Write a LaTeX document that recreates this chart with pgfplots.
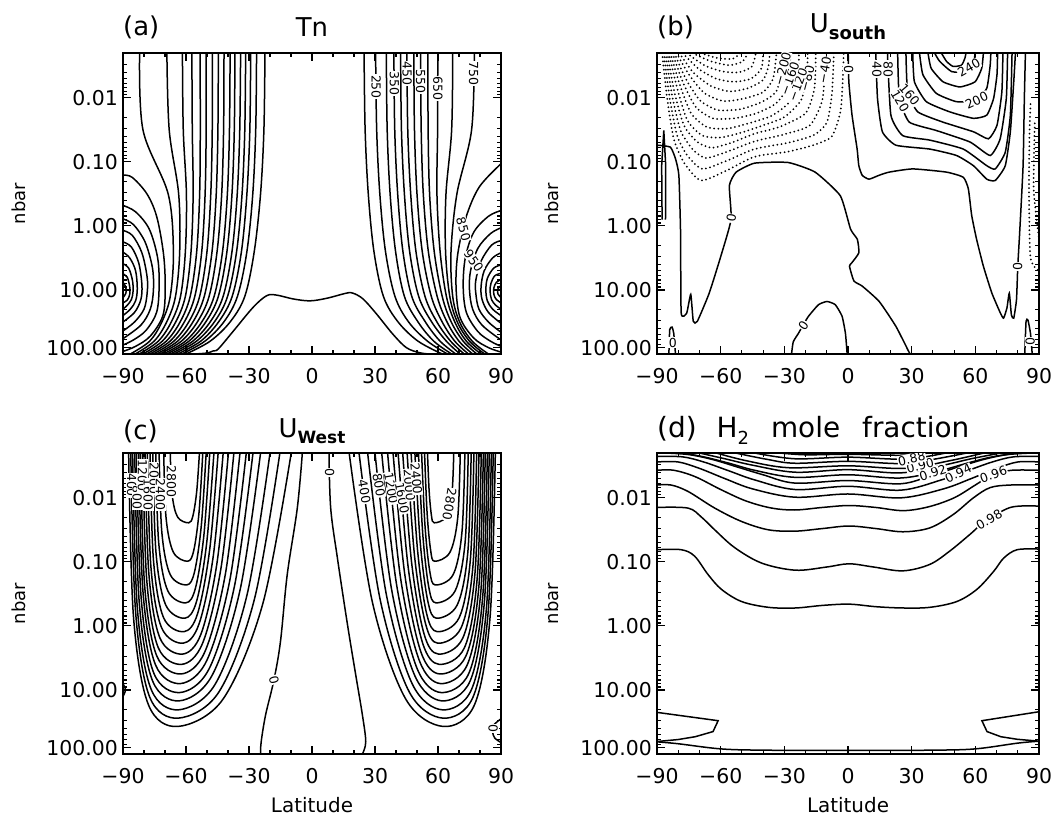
\documentclass[border=0pt]{standalone}
\usepackage{fontspec}
\setmainfont{DejaVu Sans}
\usepackage{pgfplots}
\pgfplotsset{compat=1.18}
\pgfplotsset{
 panel/.style={scale only axis, height=301bp, xmin=-90, xmax=90, ymin=-2.7, ymax=2.0, y dir=reverse,
  xtick={-90,-60,-30,0,30,60,90}, xticklabels={},
  minor xtick={-80,-70,-50,-40,-20,-10,10,20,40,50,70,80},
  ytick={-2,-1,0,1,1.9}, yticklabels={},
  tick label style={opacity=0,text opacity=0},
  minor ytick={-2.523,-2.398,-2.301,-2.222,-2.155,-2.097,-2.046,-1.699,-1.523,-1.398,-1.301,-1.222,-1.155,-1.097,-1.046,-0.699,-0.523,-0.398,-0.301,-0.222,-0.155,-0.097,-0.046,0.301,0.477,0.602,0.699,0.778,0.845,0.903,0.954,1.301,1.477,1.602,1.699,1.778,1.845},
  tick align=inside, major tick length=8bp, minor tick length=4bp,
  every tick/.style={black,line width=1.1bp},
  axis line style={line width=1.8bp},
  ylabel={\mbox{\fontsize{18}{18}\selectfont nbar}},
  every axis y label/.style={at={(axis description cs:-0.275,0.5)},rotate=90,anchor=center},
  every axis x label/.style={at={(axis description cs:0.5,-0.17)},anchor=center},
 },
 ct/.style={black,line width=1.5bp,smooth,tension=0.55,mark=none},
 cb/.style={black,line width=1.5bp,smooth,tension=0.3,mark=none},
 cl/.style={black,line width=1.5bp,mark=none},
 dt/.style={black,line width=2bp,smooth,tension=0.4,mark=none,line cap=round,dash pattern=on 0bp off 4.2bp},
}
\tikzset{lbl/.style={fill=white,inner sep=0.6bp,font=\fontsize{12.5}{12.5}\selectfont},
 ttl/.style={font=\fontsize{26}{26}\selectfont,inner sep=0pt},
 tlab/.style={font=\fontsize{20.5}{22}\selectfont,inner sep=0pt}}
\begin{document}
\begin{tikzpicture}[x=1bp,y=1bp]
\path[use as bounding box] (0bp,0bp) rectangle (1054bp,817bp);

%================ (a) Tn
\begin{axis}[panel, width=378bp, at={(123bp,463bp)}, anchor=south west]
\addplot[ct] coordinates {(-56,2.0) (-50,1.985) (-46.9,1.95) (-44.6,1.92) (-37.4,1.64) (-28.0,1.27) (-21.6,1.09) (-16.9,1.08) (-9.0,1.14) (-1.0,1.17) (7.0,1.13) (16.4,1.05) (19.5,1.05) (24.3,1.14) (30.6,1.37) (38.5,1.69) (44.9,1.90) (51.2,1.98) (56,2.0)};
\addplot[ct] coordinates {(24.8,-2.7) (25.3,-1.5) (26.8,-0.5) (29.5,0.4) (34.0,1.1) (41.0,1.5) (50.5,1.8) (62.0,2.0)};
\addplot[ct] coordinates {(30.3,-2.7) (30.8,-1.5) (32.3,-0.5) (35.0,0.4) (39.5,1.1) (46.0,1.5) (55.0,1.8) (64.5,2.0)};
\addplot[ct] coordinates {(35.4,-2.7) (35.8,-1.5) (37.2,-0.5) (39.8,0.4) (44.0,1.1) (50.5,1.5) (58.0,1.8) (66.5,2.0)};
\addplot[ct] coordinates {(39.0,-2.7) (39.4,-1.5) (40.8,-0.5) (43.3,0.4) (47.5,1.1) (54.0,1.5) (61.0,1.8) (68.5,2.0)};
\addplot[ct] coordinates {(42.2,-2.7) (42.6,-1.5) (44.0,-0.5) (46.5,0.4) (50.8,1.1) (57.0,1.5) (64.0,1.8) (70.5,2.0)};
\addplot[ct] coordinates {(45.2,-2.7) (45.6,-1.5) (47.0,-0.5) (49.5,0.4) (53.8,1.1) (59.5,1.5) (66.0,1.8) (72.5,2.0)};
\addplot[ct] coordinates {(48.5,-2.7) (48.8,-1.5) (50.0,-0.5) (52.5,0.4) (56.8,1.1) (62.0,1.5) (68.0,1.8) (74.5,2.0)};
\addplot[ct] coordinates {(51.7,-2.7) (52.0,-1.5) (53.0,-0.5) (55.4,0.4) (59.6,1.1) (64.3,1.5) (70.0,1.8) (76.5,2.0)};
\addplot[ct] coordinates {(55.2,-2.7) (55.3,-1.5) (56.0,-0.5) (58.2,0.4) (62.0,1.1) (66.3,1.5) (72.0,1.8) (78.5,2.0)};
\addplot[ct] coordinates {(59.9,-2.7) (59.8,-1.5) (59.5,-0.5) (61.0,0.4) (64.0,1.1) (68.0,1.5) (73.5,1.8) (80.5,2.0)};
\addplot[ct] coordinates {(67.0,-2.7) (66.5,-1.5) (63.8,-0.5) (63.6,0.4) (65.6,1.1) (69.2,1.5) (75.0,1.8) (82.2,2.0)};
\addplot[ct] coordinates {(77.3,-2.7) (76.0,-1.5) (69.0,-0.5) (66.2,0.4) (67.0,1.1) (70.3,1.5) (76.3,1.8) (84.0,2.0)};
\addplot[ct] coordinates {(90,-0.97) (79.7,-0.61) (73.4,-0.14) (69.4,0.44) (68.6,0.96) (70.5,1.43) (77,1.75) (84,1.9) (90,1.97)};
\addplot[ct] coordinates {(90,-0.24) (84,-0.15) (77,0.1) (73,0.5) (72,0.95) (73.5,1.35) (79,1.65) (85,1.8) (90,1.88)};
\addplot[ct] coordinates {(90,0.03) (85,0.12) (79,0.35) (75.5,0.7) (75,1.0) (76.5,1.3) (81,1.55) (90,1.78)};
\addplot[ct] coordinates {(90,0.23) (85.5,0.3) (80.5,0.55) (78,0.85) (78,1.05) (79.5,1.3) (84,1.5) (90,1.66)};
\addplot[ct] coordinates {(90,0.42) (86,0.5) (82,0.7) (80.5,0.95) (81,1.15) (84,1.35) (90,1.52)};
\addplot[ct] coordinates {(90,0.61) (86.5,0.66) (83.5,0.82) (82.8,1.0) (83.5,1.17) (86,1.3) (90,1.4)};
\addplot[ct] coordinates {(90,0.74) (87,0.78) (85.2,0.9) (84.8,1.02) (85.5,1.15) (87.5,1.24) (90,1.3)};
\addplot[ct] coordinates {(90,0.84) (87.8,0.88) (86.6,0.97) (86.6,1.07) (87.8,1.15) (90,1.2)};
\addplot[ct] coordinates {(90,0.93) (88.6,0.98) (88.5,1.06) (90,1.12)};
\addplot[ct] coordinates {(-22.4,-2.7) (-22.9,-1.5) (-24.5,-0.5) (-27.5,0.4) (-32.0,1.1) (-39.0,1.5) (-48.5,1.8) (-60.0,2.0)};
\addplot[ct] coordinates {(-26.4,-2.7) (-26.8,-1.5) (-28.2,-0.5) (-31.0,0.4) (-35.5,1.1) (-42.0,1.5) (-51.0,1.8) (-62.0,2.0)};
\addplot[ct] coordinates {(-29.2,-2.7) (-29.6,-1.5) (-31.0,-0.5) (-33.6,0.4) (-38.0,1.1) (-44.5,1.5) (-53.0,1.8) (-64.0,2.0)};
\addplot[ct] coordinates {(-31.6,-2.7) (-32.0,-1.5) (-33.3,-0.5) (-35.9,0.4) (-40.2,1.1) (-46.5,1.5) (-55.0,1.8) (-65.8,2.0)};
\addplot[ct] coordinates {(-34.0,-2.7) (-34.4,-1.5) (-35.6,-0.5) (-38.1,0.4) (-42.3,1.1) (-48.5,1.5) (-56.8,1.8) (-67.5,2.0)};
\addplot[ct] coordinates {(-36.7,-2.7) (-37.0,-1.5) (-38.1,-0.5) (-40.5,0.4) (-44.6,1.1) (-50.6,1.5) (-58.6,1.8) (-69.2,2.0)};
\addplot[ct] coordinates {(-39.0,-2.7) (-39.3,-1.5) (-40.3,-0.5) (-42.6,0.4) (-46.6,1.1) (-52.5,1.5) (-60.3,1.8) (-70.8,2.0)};
\addplot[ct] coordinates {(-41.9,-2.7) (-42.1,-1.5) (-43.0,-0.5) (-45.2,0.4) (-49.0,1.1) (-54.6,1.5) (-62.2,1.8) (-72.5,2.0)};
\addplot[ct] coordinates {(-44.6,-2.7) (-44.8,-1.5) (-45.6,-0.5) (-47.6,0.4) (-51.3,1.1) (-56.7,1.5) (-64.0,1.8) (-74.0,2.0)};
\addplot[ct] coordinates {(-47.4,-2.7) (-47.5,-1.5) (-48.2,-0.5) (-50.0,0.4) (-53.5,1.1) (-58.7,1.5) (-65.8,1.8) (-75.6,2.0)};
\addplot[ct] coordinates {(-50.4,-2.7) (-50.4,-1.5) (-50.9,-0.5) (-52.5,0.4) (-55.8,1.1) (-60.8,1.5) (-67.6,1.8) (-77.2,2.0)};
\addplot[ct] coordinates {(-53.3,-2.7) (-53.2,-1.5) (-53.5,-0.5) (-54.9,0.4) (-58.0,1.1) (-62.8,1.5) (-69.4,1.8) (-78.8,2.0)};
\addplot[ct] coordinates {(-57.2,-2.7) (-57.0,-1.5) (-56.6,-0.5) (-57.6,0.4) (-60.3,1.1) (-64.9,1.5) (-71.3,1.8) (-80.5,2.0)};
\addplot[ct] coordinates {(-61.7,-2.7) (-61.3,-1.5) (-59.8,-0.5) (-60.3,0.4) (-62.6,1.1) (-67.0,1.5) (-73.2,1.8) (-82.3,2.0)};
\addplot[ct] coordinates {(-69.1,-2.7) (-68.0,-1.5) (-63.5,-0.5) (-63.0,0.4) (-65.0,1.1) (-69.2,1.5) (-75.2,1.8) (-84.2,2.0)};
\addplot[ct] coordinates {(-82.1,-2.7) (-80.5,-1.5) (-68.5,-0.5) (-66.0,0.4) (-67.5,1.1) (-71.5,1.5) (-77.3,1.8) (-86.5,2.0)};
\addplot[ct] coordinates {(-90,-0.79) (-85.7,-0.76) (-78.6,-0.50) (-73.9,-0.14) (-70.7,0.44) (-69.9,0.96) (-71,1.40) (-77,1.72) (-84,1.88) (-90,1.96)};
\addplot[ct] coordinates {(-90,-0.32) (-84,-0.22) (-77.5,0.05) (-73.5,0.5) (-72.8,0.95) (-74,1.35) (-79,1.63) (-85,1.78) (-90,1.86)};
\addplot[ct] coordinates {(-90,-0.11) (-85,-0.02) (-79.5,0.25) (-76,0.65) (-75.5,1.0) (-77,1.3) (-81.5,1.55) (-90,1.76)};
\addplot[ct] coordinates {(-90,0.07) (-85.5,0.15) (-81,0.42) (-78.5,0.8) (-78.5,1.05) (-80,1.3) (-84.5,1.5) (-90,1.64)};
\addplot[ct] coordinates {(-90,0.25) (-86,0.33) (-82.5,0.58) (-81,0.92) (-81.5,1.15) (-84.5,1.35) (-90,1.5)};
\addplot[ct] coordinates {(-90,0.41) (-86.8,0.5) (-84,0.7) (-83.2,0.98) (-84,1.17) (-86.5,1.3) (-90,1.4)};
\addplot[ct] coordinates {(-90,0.59) (-87.3,0.66) (-85.5,0.85) (-85.2,1.02) (-86,1.15) (-88,1.24) (-90,1.3)};
\addplot[ct] coordinates {(-90,0.75) (-88,0.8) (-86.8,0.95) (-86.8,1.07) (-88,1.16) (-90,1.2)};
\addplot[ct] coordinates {(-90,0.88) (-88.7,0.95) (-88.6,1.05) (-90,1.12)};
\node[lbl,rotate=-90] at (axis cs:30.5,-2.17) {250};
\node[lbl,rotate=-90] at (axis cs:39.2,-2.22) {350};
\node[lbl,rotate=-90] at (axis cs:45.3,-2.38) {450};
\node[lbl,rotate=-90] at (axis cs:51.8,-2.25) {550};
\node[lbl,rotate=-90] at (axis cs:59.9,-2.15) {650};
\node[lbl,rotate=-90] at (axis cs:77.0,-2.38) {750};
\node[lbl,rotate=-75] at (axis cs:72.1,0.05) {850};
\node[lbl,rotate=-55] at (axis cs:77.0,0.55) {950};
\end{axis}
\node[ttl,anchor=west] at (123bp,790bp) {(a)};
\node[ttl] at (312bp,790bp) {Tn};

%================ (b) U south
\begin{axis}[panel, width=382bp, at={(657bp,463bp)}, anchor=south west]
\addplot[cb] coordinates {(0.1,-2.7) (0.4,-2.25) (1.9,-1.73) (4.3,-1.2) (5.1,-0.94) (6.7,-0.79) (9.9,-0.73) (14.6,-0.79) (19.4,-0.84) (30.5,-0.89) (46.4,-0.84) (54.3,-0.76) (56.7,-0.58) (58.3,-0.16) (60.6,0.21) (63.8,0.63) (67.8,1.05) (71.8,1.36) (73.3,1.44) (74.9,1.28) (76.0,1.05) (77.0,1.39) (78.1,1.44) (79.4,1.15) (80.0,0.63) (80.9,0.10) (82.5,-0.94) (83.1,-1.99) (83.6,-2.7)};
\addplot[cb] coordinates {(-89.7,-1.26) (-83.7,-1.23) (-81.3,-1.05) (-79.7,-0.79) (-78.9,0.10) (-78.6,1.36) (-76.0,1.36) (-74.1,1.07) (-72.9,1.49) (-71.0,1.49) (-65.4,1.05) (-59.9,0.47) (-55.1,-0.10) (-55.9,-0.63) (-52.7,-0.84) (-44.0,-0.98) (-28.2,-0.99) (-15.5,-0.84) (-3.6,-0.47) (1.2,0.05) (4.4,0.21) (5.1,0.42) (1.7,0.58) (0.7,0.63) (2.8,0.86) (6.7,0.94) (14.7,1.18) (22.6,1.57) (28.9,1.98) (29.5,2.0)};
\addplot[cb] coordinates {(-26.6,2.0) (-25.8,1.81) (-23.4,1.68) (-21.0,1.54) (-18.6,1.41) (-13.9,1.23) (-9.9,1.18) (-6.0,1.23) (-2.8,1.41) (-1.2,1.68) (-0.4,2.0)};
\addplot[cl] coordinates {(-87.6,-0.10) (-87.8,-0.94) (-86.8,-1.49) (-85.9,-0.94) (-86.0,-0.10)};
\addplot[cb] coordinates {(-84.4,2.0) (-84.0,1.62) (-82.9,1.58) (-82.1,1.68) (-81.3,2.0)};
\addplot[cb] coordinates {(83.3,2.0) (83.9,1.49) (84.8,1.47) (86.0,1.68) (86.8,2.0)};
\addplot[cb] coordinates {(13.1,-2.7) (13.9,-1.99) (16.2,-1.47) (22.6,-1.26) (38.5,-1.20) (51.1,-1.10) (59.1,-0.94) (65.4,-0.73) (69.4,-0.71) (74.1,-0.94) (76.5,-1.47) (78.1,-2.25) (78.9,-2.7)};
\addplot[cb] coordinates {(18.6,-2.7) (20.2,-1.73) (25.8,-1.41) (38.5,-1.34) (54.3,-1.20) (65.4,-0.94) (69.4,-0.89) (74.1,-1.15) (76.5,-1.73) (77.3,-2.7)};
\addplot[cb] coordinates {(23.4,-2.7) (24.2,-1.99) (28.9,-1.62) (41.6,-1.49) (57.5,-1.31) (67.0,-1.10) (71.7,-1.36) (74.6,-1.99) (75.2,-2.7)};
\addplot[cb] coordinates {(27.3,-2.7) (28.1,-2.09) (32.9,-1.78) (44.8,-1.62) (59.1,-1.47) (66.2,-1.36) (70.2,-1.57) (72.5,-2.09) (73.0,-2.7)};
\addplot[cb] coordinates {(30.5,-2.7) (31.3,-2.25) (36.9,-1.94) (48.0,-1.78) (59.1,-1.68) (65.4,-1.73) (68.6,-1.99) (70.2,-2.36) (70.5,-2.7)};
\addplot[cb] coordinates {(33.7,-2.7) (35.3,-2.36) (41.6,-2.07) (51.1,-1.94) (60.6,-1.96) (65.4,-2.15) (67.0,-2.51) (67.3,-2.7)};
\addplot[cb] coordinates {(37.7,-2.7) (39.2,-2.46) (44.8,-2.25) (52.7,-2.17) (59.9,-2.25) (63.0,-2.46) (63.8,-2.7)};
\addplot[cb] coordinates {(40.8,-2.7) (43.2,-2.57) (48.8,-2.41) (55.1,-2.41) (59.1,-2.54) (59.9,-2.7)};
\addplot[cb] coordinates {(44.0,-2.7) (46.4,-2.57) (49.5,-2.49) (53.5,-2.51) (55.1,-2.62) (55.6,-2.7)};
\addplot[dt] coordinates {(-87.6,-2.7) (-85.2,-1.99) (-82.1,-1.36) (-77.3,-0.99) (-69.4,-0.71) (-57.5,-0.86) (-44,-1.08) (-28.2,-1.16) (-15.5,-1.27) (-7.6,-1.40) (-3.6,-1.78) (-2.5,-2.25) (-2.0,-2.7)};
\addplot[dt] coordinates {(-86.8,-2.7) (-84.0,-1.99) (-80.5,-1.41) (-75.7,-1.10) (-68.6,-0.89) (-57,-1.02) (-44,-1.20) (-28,-1.30) (-16,-1.42) (-9.9,-1.62) (-7.5,-2.09) (-6.7,-2.7)};
\addplot[dt] coordinates {(-86.0,-2.7) (-82.9,-2.04) (-78.9,-1.49) (-73.3,-1.20) (-67,-1.06) (-56,-1.17) (-44,-1.32) (-30,-1.43) (-18,-1.57) (-12.3,-1.94) (-11.0,-2.36) (-10.7,-2.7)};
\addplot[dt] coordinates {(-85.2,-2.7) (-81.8,-2.09) (-77.3,-1.57) (-71.0,-1.31) (-64,-1.22) (-54,-1.31) (-44,-1.44) (-32,-1.55) (-20,-1.76) (-15.8,-2.15) (-15.2,-2.7)};
\addplot[dt] coordinates {(-84.4,-2.7) (-80.5,-2.15) (-75.7,-1.65) (-68.6,-1.41) (-60,-1.38) (-50,-1.46) (-40,-1.57) (-30,-1.70) (-22,-1.97) (-19.4,-2.36) (-19.0,-2.7)};
\addplot[dt] coordinates {(-83.7,-2.7) (-79.2,-2.20) (-73.8,-1.75) (-66.2,-1.54) (-57,-1.52) (-47,-1.60) (-36,-1.72) (-28,-1.92) (-23.7,-2.25) (-23.1,-2.7)};
\addplot[dt] coordinates {(-82.7,-2.7) (-77.9,-2.25) (-71.8,-1.86) (-63.8,-1.68) (-53.5,-1.68) (-43,-1.76) (-34,-1.91) (-29,-2.15) (-26.9,-2.7)};
\addplot[dt] coordinates {(-81.8,-2.7) (-76.5,-2.30) (-69.7,-1.96) (-61.5,-1.81) (-51.1,-1.82) (-41,-1.93) (-34,-2.09) (-31.0,-2.41) (-30.4,-2.7)};
\addplot[dt] coordinates {(-80.8,-2.7) (-74.9,-2.36) (-67.5,-2.07) (-58.6,-1.95) (-48.8,-1.99) (-40.0,-2.09) (-35.3,-2.30) (-33.7,-2.7)};
\addplot[dt] coordinates {(-79.5,-2.7) (-73.0,-2.40) (-64.9,-2.19) (-55.9,-2.10) (-47.2,-2.15) (-40.0,-2.28) (-37.4,-2.51) (-36.9,-2.7)};
\addplot[dt] coordinates {(-77.9,-2.7) (-70.7,-2.46) (-62.2,-2.30) (-53.5,-2.25) (-45.6,-2.30) (-40.8,-2.46) (-40.0,-2.7)};
\addplot[dt] coordinates {(-76.0,-2.7) (-67.8,-2.51) (-59.1,-2.41) (-51.1,-2.40) (-45.3,-2.49) (-43.4,-2.7)};
\addplot[dt] coordinates {(-73.3,-2.7) (-64.6,-2.57) (-55.9,-2.51) (-49.6,-2.57) (-47.2,-2.7)};
\addplot[dt] coordinates {(-69.4,-2.7) (-61.5,-2.62) (-54.3,-2.61) (-50.7,-2.7)};
\addplot[dt] coordinates {(86.0,-1.9) (85.5,-1.4) (85.3,-0.5) (86,0.5) (90,0.7)};
\addplot[dt] coordinates {(88.0,-1.6) (87.6,-1.0) (87.6,-0.5) (90,0.2)};
\node[lbl,rotate=-90] at (axis cs:0.3,-2.45) {0};
\node[lbl,rotate=80] at (axis cs:-55.0,-0.12) {0};
\node[lbl,rotate=-90] at (axis cs:80.0,0.63) {0};
\node[lbl,rotate=55] at (axis cs:-21.0,1.55) {0};
\node[lbl] at (axis cs:-82.6,1.82) {0};
\node[lbl,rotate=-90] at (axis cs:85.8,1.8) {0};
\node[lbl,rotate=-90] at (axis cs:13.6,-2.45) {40};
\node[lbl,rotate=-90] at (axis cs:18.9,-2.45) {80};
\node[lbl,rotate=-60] at (axis cs:24.5,-1.95) {120};
\node[lbl,rotate=-50] at (axis cs:29.0,-2.05) {160};
\node[lbl,rotate=25] at (axis cs:60.6,-1.96) {200};
\node[lbl,rotate=30] at (axis cs:57.0,-2.47) {240};
\node[lbl,rotate=80] at (axis cs:-11.0,-2.43) {−40};
\node[lbl,rotate=75] at (axis cs:-19.2,-2.30) {−80};
\node[lbl,rotate=70] at (axis cs:-23.7,-2.20) {−120};
\node[lbl,rotate=70] at (axis cs:-27.5,-2.30) {−160};
\node[lbl,rotate=75] at (axis cs:-30.8,-2.45) {−200};
\end{axis}
\node[ttl,anchor=west] at (657bp,790bp) {(b)};
\node[ttl] at (848bp,790bp) {U\raisebox{-7bp}{\fontsize{18}{18}\selectfont\bfseries south}};

%================ (c) U west
\begin{axis}[panel, width=378bp, at={(123bp,63bp)}, anchor=south west, xlabel={\mbox{\fontsize{20}{20}\selectfont Latitude}}]
\addplot[ct] coordinates {(-87.3,-2.7) (-85.0,-0.14) (-77.9,1.23) (-63.9,1.57) (-42.3,1.14) (-23.4,-0.35) (-9.9,-2.7)};
\addplot[ct] coordinates {(-86.3,-2.7) (-84.0,-0.22) (-77.3,1.11) (-63.7,1.44) (-44.3,1.03) (-27.4,-0.42) (-15.3,-2.7)};
\addplot[ct] coordinates {(-85.4,-2.7) (-83.2,-0.29) (-76.6,0.99) (-63.5,1.31) (-46.1,0.91) (-30.9,-0.49) (-20.0,-2.7)};
\addplot[ct] coordinates {(-84.4,-2.7) (-82.3,-0.38) (-75.9,0.86) (-63.2,1.17) (-47.7,0.78) (-34.2,-0.57) (-24.5,-2.7)};
\addplot[ct] coordinates {(-83.5,-2.7) (-81.4,-0.46) (-75.3,0.74) (-62.9,1.04) (-49.0,0.67) (-36.8,-0.64) (-28.1,-2.7)};
\addplot[ct] coordinates {(-82.5,-2.7) (-80.5,-0.54) (-74.5,0.61) (-62.6,0.90) (-50.1,0.54) (-39.1,-0.72) (-31.3,-2.7)};
\addplot[ct] coordinates {(-81.6,-2.7) (-79.7,-0.63) (-73.9,0.47) (-62.3,0.75) (-51.1,0.41) (-41.3,-0.80) (-34.3,-2.7)};
\addplot[ct] coordinates {(-80.6,-2.7) (-78.7,-0.72) (-73.2,0.34) (-62.0,0.60) (-52.1,0.27) (-43.4,-0.89) (-37.2,-2.7)};
\addplot[ct] coordinates {(-79.5,-2.7) (-77.7,-0.82) (-72.4,0.19) (-61.7,0.44) (-52.9,0.13) (-45.3,-0.97) (-39.8,-2.7)};
\addplot[ct] coordinates {(-78.4,-2.7) (-76.7,-0.92) (-71.6,0.03) (-61.4,0.27) (-53.8,-0.03) (-47.1,-1.07) (-42.3,-2.7)};
\addplot[ct] coordinates {(-77.1,-2.7) (-75.5,-1.03) (-70.7,-0.13) (-61.0,0.09) (-54.5,-0.19) (-48.8,-1.17) (-44.7,-2.7)};
\addplot[ct] coordinates {(-75.8,-2.7) (-74.3,-1.15) (-69.7,-0.33) (-60.6,-0.12) (-55.0,-0.38) (-50.2,-1.28) (-46.7,-2.7)};
\addplot[ct] coordinates {(-74.4,-2.7) (-73.0,-1.30) (-68.7,-0.55) (-60.1,-0.36) (-55.5,-0.59) (-51.5,-1.41) (-48.7,-2.7)};
\addplot[ct] coordinates {(-72.8,-2.7) (-71.5,-1.46) (-67.5,-0.80) (-59.6,-0.64) (-55.9,-0.85) (-52.7,-1.57) (-50.4,-2.7)};
\addplot[ct] coordinates {(-70.6,-2.7) (-69.5,-1.69) (-66.0,-1.15) (-59.2,-1.01) (-56.3,-1.18) (-53.8,-1.77) (-52.0,-2.7)};
\addplot[ct] coordinates {(-67.5,-2.7) (-66.6,-2.05) (-64.0,-1.70) (-58.7,-1.61) (-56.7,-1.72) (-54.9,-2.10) (-53.6,-2.7)};
\addplot[ct] coordinates {(87.3,-2.7) (84.8,-0.14) (77.4,1.23) (62.5,1.57) (44.6,1.14) (28.9,-0.35) (17.7,-2.7)};
\addplot[ct] coordinates {(86.3,-2.7) (83.9,-0.22) (76.7,1.11) (62.3,1.44) (46.3,1.03) (32.4,-0.42) (22.4,-2.7)};
\addplot[ct] coordinates {(85.4,-2.7) (83.1,-0.29) (76.0,0.99) (62.0,1.31) (47.8,0.91) (35.4,-0.49) (26.5,-2.7)};
\addplot[ct] coordinates {(84.4,-2.7) (82.1,-0.38) (75.3,0.86) (61.7,1.17) (49.0,0.78) (37.9,-0.57) (30.0,-2.7)};
\addplot[ct] coordinates {(83.5,-2.7) (81.3,-0.46) (74.7,0.74) (61.4,1.04) (50.1,0.67) (40.3,-0.64) (33.2,-2.7)};
\addplot[ct] coordinates {(82.5,-2.7) (80.4,-0.54) (73.9,0.61) (61.1,0.90) (51.1,0.54) (42.3,-0.72) (36.0,-2.7)};
\addplot[ct] coordinates {(81.6,-2.7) (79.5,-0.63) (73.3,0.47) (60.8,0.75) (51.9,0.41) (44.2,-0.80) (38.6,-2.7)};
\addplot[ct] coordinates {(80.6,-2.7) (78.6,-0.72) (72.6,0.34) (60.5,0.60) (52.7,0.27) (45.9,-0.89) (41.0,-2.7)};
\addplot[ct] coordinates {(79.5,-2.7) (77.6,-0.82) (71.8,0.19) (60.2,0.44) (53.4,0.13) (47.5,-0.97) (43.2,-2.7)};
\addplot[ct] coordinates {(78.4,-2.7) (76.6,-0.92) (71.0,0.03) (59.9,0.27) (54.1,-0.03) (48.9,-1.07) (45.3,-2.7)};
\addplot[ct] coordinates {(77.1,-2.7) (75.4,-1.03) (70.1,-0.13) (59.6,0.09) (54.6,-0.19) (50.3,-1.17) (47.2,-2.7)};
\addplot[ct] coordinates {(75.8,-2.7) (74.2,-1.15) (69.2,-0.33) (59.3,-0.12) (55.2,-0.38) (51.6,-1.28) (49.0,-2.7)};
\addplot[ct] coordinates {(74.4,-2.7) (72.9,-1.30) (68.2,-0.55) (59.0,-0.36) (55.7,-0.59) (52.8,-1.41) (50.7,-2.7)};
\addplot[ct] coordinates {(72.8,-2.7) (71.4,-1.46) (67.2,-0.80) (58.7,-0.64) (56.1,-0.85) (53.8,-1.57) (52.2,-2.7)};
\addplot[ct] coordinates {(70.6,-2.7) (69.4,-1.69) (65.7,-1.15) (58.4,-1.01) (56.5,-1.18) (54.8,-1.77) (53.6,-2.7)};
\addplot[ct] coordinates {(67.5,-2.7) (66.6,-2.05) (63.8,-1.70) (58.2,-1.61) (56.9,-1.72) (55.8,-2.10) (55.0,-2.7)};
\addplot[ct] coordinates {(-4.6,-2.7) (-7.0,-1.84) (-11.8,-0.80) (-15.0,0.24) (-18.1,0.84) (-22.1,1.39) (-24.2,1.81) (-24.5,2.0)};
\addplot[ct] coordinates {(8.1,-2.7) (8.9,-1.84) (12.1,-1.06) (16.9,-0.02) (20.8,0.76) (24.0,1.39) (25.6,1.81) (24.0,2.0)};
\addplot[ct] coordinates {(90,1.45) (86.5,1.55) (86.0,1.65) (87,1.75) (90,1.82)};
\addplot[ct] coordinates {(-90,0.9) (-88.8,1.0) (-90,1.1)};
\node[lbl,rotate=-90] at (axis cs:8.4,-2.4) {0};
\node[lbl,rotate=-75] at (axis cs:-18.1,0.84) {0};
\node[lbl,rotate=-90] at (axis cs:86.3,1.6) {0};
\node[lbl,rotate=-80] at (axis cs:25.0,-2.1) {400};
\node[lbl,rotate=-80] at (axis cs:31.9,-2.2) {800};
\node[lbl,rotate=-80] at (axis cs:37.7,-2.15) {1200};
\node[lbl,rotate=-80] at (axis cs:42.9,-2.0) {1600};
\node[lbl,rotate=-85] at (axis cs:46.4,-2.2) {2000};
\node[lbl,rotate=-85] at (axis cs:49.7,-2.3) {2400};
\node[lbl,rotate=-100] at (axis cs:65.5,-1.9) {2800};
\node[lbl,rotate=-90] at (axis cs:-85.9,-2.2) {400};
\node[lbl,rotate=-90] at (axis cs:-83.2,-2.0) {800};
\node[lbl,rotate=-90] at (axis cs:-80.8,-2.35) {1200};
\node[lbl,rotate=-90] at (axis cs:-78.0,-2.05) {1600};
\node[lbl,rotate=-90] at (axis cs:-75.2,-2.3) {2000};
\node[lbl,rotate=-90] at (axis cs:-72.2,-2.05) {2400};
\node[lbl,rotate=-90] at (axis cs:-66.9,-2.25) {2800};
\end{axis}
\node[ttl,anchor=west] at (123bp,386bp) {(c)};
\node[ttl] at (312bp,386bp) {U\raisebox{-6bp}{\fontsize{17}{17}\selectfont\bfseries West}};

%================ (d) H2
\begin{axis}[panel, width=382bp, at={(657bp,63bp)}, anchor=south west, xlabel={\mbox{\fontsize{20}{20}\selectfont Latitude}}]
\addplot[ct] coordinates {(-90,-1.19) (-78.6,-1.19) (-72.3,-1.09) (-65.9,-0.80) (-59.6,-0.57) (-50.1,-0.38) (-37.4,-0.29) (-24.8,-0.28) (-12.1,-0.32) (0.5,-0.34) (13.2,-0.30) (25.9,-0.28) (38.5,-0.29) (51.2,-0.38) (60.7,-0.57) (68.6,-0.85) (73.4,-1.06) (79.7,-1.19) (90,-1.20)};
\addplot[ct] coordinates {(-90,-1.85) (-75.4,-1.84) (-69.1,-1.70) (-62.8,-1.50) (-53.3,-1.22) (-40.6,-0.98) (-24.8,-0.87) (-10,-0.92) (0.5,-0.97) (12,-0.92) (25.9,-0.86) (38.5,-0.96) (48.0,-1.17) (57.5,-1.43) (63.9,-1.61) (76.5,-1.85) (90,-1.87)};
\addplot[ct] coordinates {(-90,-2.20) (-83.4,-2.20) (-75.4,-2.10) (-62.8,-1.84) (-50.1,-1.63) (-37.4,-1.50) (-24.8,-1.48) (-12.1,-1.52) (0.5,-1.56) (13.2,-1.52) (25.9,-1.47) (38.5,-1.53) (49.6,-1.74) (59.1,-2.0) (67.0,-2.16) (76.5,-2.20) (90,-2.20)};
\addplot[ct] coordinates {(-90,-2.43) (-82,-2.43) (-72,-2.33) (-60,-2.13) (-48,-1.95) (-36,-1.84) (-25,-1.81) (-12,-1.85) (0.5,-1.88) (13,-1.85) (26,-1.80) (38,-1.86) (50,-2.0) (60,-2.2) (68,-2.36) (77,-2.43) (90,-2.43)};
\addplot[ct] coordinates {(-90,-2.56) (-80,-2.56) (-70,-2.46) (-58,-2.30) (-45,-2.14) (-25,-2.01) (0,-2.06) (25,-2.00) (45,-2.14) (58,-2.30) (70,-2.46) (80,-2.56) (90,-2.56)};
\addplot[ct] coordinates {(-90,-2.645) (-78,-2.64) (-68,-2.56) (-56,-2.42) (-44,-2.28) (-25,-2.13) (0,-2.18) (25,-2.12) (44,-2.28) (56,-2.42) (68,-2.56) (78,-2.64) (90,-2.645)};
\addplot[ct] coordinates {(-86,-2.7) (-75,-2.675) (-64,-2.60) (-52,-2.48) (-40,-2.36) (-25,-2.23) (0,-2.27) (25,-2.22) (40,-2.36) (52,-2.48) (64,-2.60) (75,-2.675) (87,-2.7)};
\addplot[ct] coordinates {(-78,-2.7) (-68,-2.64) (-56,-2.54) (-44,-2.43) (-25,-2.32) (0,-2.36) (25,-2.31) (44,-2.43) (56,-2.54) (68,-2.64) (80,-2.7)};
\addplot[ct] coordinates {(-70,-2.7) (-58,-2.61) (-45,-2.51) (-25,-2.40) (0,-2.44) (25,-2.39) (45,-2.51) (58,-2.61) (72,-2.7)};
\addplot[ct] coordinates {(-62,-2.7) (-48,-2.58) (-28,-2.47) (0,-2.50) (27,-2.46) (48,-2.58) (64,-2.7)};
\addplot[ct] coordinates {(-53,-2.7) (-38,-2.60) (-25,-2.54) (0,-2.57) (25,-2.535) (40,-2.60) (56,-2.7)};
\addplot[ct] coordinates {(-44,-2.7) (-25,-2.61) (0,-2.635) (27,-2.605) (46,-2.7)};
\addplot[ct] coordinates {(-32,-2.7) (-20,-2.672) (0,-2.68) (25,-2.665) (38,-2.7)};
\addplot[ct] coordinates {(-90,1.81) (-80,1.84) (-60,1.92) (-40,1.94) (0,1.945) (40,1.94) (60,1.92) (80,1.83) (90,1.80)};
\addplot[cl] coordinates {(-90,1.35) (-61.2,1.48) (-63.6,1.65) (-72,1.73) (-80.2,1.775) (-90,1.805)};
\addplot[cl] coordinates {(90,1.34) (63.1,1.48) (65.5,1.65) (72,1.73) (79.7,1.77) (90,1.80)};
\node[lbl,rotate=30] at (axis cs:66.5,-1.66) {0.98};
\node[lbl,rotate=20] at (axis cs:68.5,-2.37) {0.96};
\node[lbl,rotate=25] at (axis cs:52,-2.385) {0.94};
\node[lbl,rotate=18] at (axis cs:40,-2.395) {0.92};
\node[lbl,rotate=15] at (axis cs:34,-2.505) {0.90};
\node[lbl,rotate=12] at (axis cs:30,-2.61) {0.88};
\end{axis}
\node[anchor=west,inner sep=0pt,font=\fontsize{28}{28}\selectfont] at (657bp,387bp) {(d)\hspace{20bp}H\raisebox{-7bp}{\fontsize{18}{18}\selectfont 2}\hspace{22bp}mole\hspace{22bp}fraction};

% tick labels
\foreach \xx/\ll in {123/−90,186/−60,249/−30,312/0,375/30,438/60,501/90} {
  \node[tlab,anchor=north] at (\xx bp,448.5bp) {\ll};
  \node[tlab,anchor=north] at (\xx bp,48.5bp) {\ll};
}
\foreach \xx/\ll in {657/−90,720.7/−60,784.3/−30,848/0,911.7/30,975.3/60,1039/90} {
  \node[tlab,anchor=north] at (\xx bp,448.5bp) {\ll};
  \node[tlab,anchor=north] at (\xx bp,48.5bp) {\ll};
}
\foreach \yy/\ll in {719.2/0.01,655.1/0.10,591.1/1.00,527.0/10.00,469.4/100.00} {
  \node[tlab,anchor=east] at (118bp,\yy bp) {\ll};
  \node[tlab,anchor=east] at (652bp,\yy bp) {\ll};
}
\foreach \yy/\ll in {319.2/0.01,255.1/0.10,191.1/1.00,127.0/10.00,69.4/100.00} {
  \node[tlab,anchor=east] at (118bp,\yy bp) {\ll};
  \node[tlab,anchor=east] at (652bp,\yy bp) {\ll};
}
\end{tikzpicture}
\end{document}
